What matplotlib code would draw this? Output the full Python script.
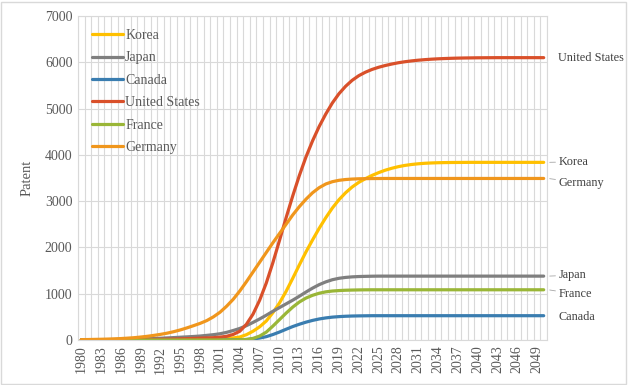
import numpy as np
import matplotlib.pyplot as plt
from matplotlib.patches import Rectangle

plt.rcParams['font.family'] = ['Liberation Serif', 'DejaVu Serif']

# years 1980 .. 2050
years = np.arange(1980, 2051)

korea = [0, 0, 1, 1, 1, 1, 2, 2, 2, 3,
         3, 4, 4, 5, 6, 7, 8, 9, 11, 13,
         16, 20, 30, 45, 65, 115, 190, 285, 410, 590,
         800, 1050, 1330, 1620, 1900, 2160, 2410, 2640, 2850, 3030,
         3180, 3305, 3405, 3485, 3555, 3615, 3668, 3710, 3745, 3772,
         3792, 3807, 3818, 3825, 3830, 3833, 3835, 3836, 3837, 3838,
         3838, 3838, 3838, 3838, 3838, 3838, 3838, 3838, 3838, 3838, 3838]

japan = [3, 4, 5, 6, 8, 10, 12, 15, 18, 22,
         27, 32, 38, 45, 52, 60, 68, 76, 86, 100,
         115, 135, 165, 205, 250, 310, 380, 455, 535, 620,
         700, 780, 860, 945, 1035, 1120, 1195, 1255, 1302, 1333,
         1352, 1364, 1371, 1375, 1378, 1380, 1380, 1380, 1380, 1380,
         1380, 1380, 1380, 1380, 1380, 1380, 1380, 1380, 1380, 1380,
         1380, 1380, 1380, 1380, 1380, 1380, 1380, 1380, 1380, 1380, 1380]

canada = [0, 0, 0, 0, 0, 0, 0, 0, 0, 0,
          0, 0, 0, 1, 1, 1, 1, 1, 1, 2,
          2, 2, 3, 3, 5, 10, 22, 42, 72, 118,
          172, 232, 290, 340, 385, 423, 454, 477, 494, 505,
          513, 518, 521, 523, 525, 525, 525, 525, 525, 525,
          525, 525, 525, 525, 525, 525, 525, 525, 525, 525,
          525, 525, 525, 525, 525, 525, 525, 525, 525, 525, 525]

usa = [2, 2, 3, 3, 4, 5, 6, 7, 8, 9,
       11, 13, 15, 18, 21, 25, 29, 34, 40, 45,
       50, 62, 80, 120, 190, 340, 560, 860, 1230, 1670,
       2150, 2640, 3110, 3550, 3950, 4300, 4610, 4880, 5120, 5320,
       5480, 5610, 5710, 5785, 5845, 5892, 5930, 5962, 5990, 6012,
       6030, 6045, 6057, 6067, 6075, 6081, 6086, 6090, 6093, 6095,
       6097, 6098, 6099, 6100, 6100, 6100, 6100, 6100, 6100, 6100, 6100]

france = [0, 0, 0, 0, 0, 0, 0, 0, 0, 0,
          0, 0, 0, 0, 0, 0, 0, 0, 1, 1,
          1, 1, 2, 3, 5, 12, 35, 85, 170, 300,
          440, 580, 710, 820, 905, 965, 1010, 1040, 1058, 1068,
          1075, 1079, 1082, 1084, 1085, 1085, 1085, 1085, 1085, 1085,
          1085, 1085, 1085, 1085, 1085, 1085, 1085, 1085, 1085, 1085,
          1085, 1085, 1085, 1085, 1085, 1085, 1085, 1085, 1085, 1085, 1085]

germany = [8, 10, 13, 16, 20, 25, 31, 40, 50, 64,
           80, 100, 122, 148, 180, 218, 262, 310, 360, 420,
           500, 600, 730, 880, 1060, 1260, 1470, 1680, 1890, 2100,
           2300, 2500, 2700, 2880, 3040, 3180, 3290, 3370, 3420, 3450,
           3467, 3477, 3483, 3486, 3488, 3489, 3490, 3490, 3490, 3490,
           3490, 3490, 3490, 3490, 3490, 3490, 3490, 3490, 3490, 3490,
           3490, 3490, 3490, 3490, 3490, 3490, 3490, 3490, 3490, 3490, 3490]

names = ['Korea', 'Japan', 'Canada', 'United States', 'France', 'Germany']
series = [korea, japan, canada, usa, france, germany]
colors = ['#FFC000', '#7F7F7F', '#3A7DB0', '#D9502A', '#9AB637', '#F0961C']

# label position on the right (value where the text sits)
label_y = [3850, 1400, 500, 6100, 995, 3390]
leader = [True, True, False, False, True, True]

fig = plt.figure(figsize=(6.28, 3.85), dpi=100)
ax = fig.add_axes([78/628, 1-340/385, (547-78)/628, (340-16)/385])

for name, vals, c in zip(names, series, colors):
    ax.plot(years, vals, color=c, lw=2.3, label=name, solid_capstyle='round')

ax.set_xlim(1979.5, 2050.5)
ax.set_ylim(0, 7000)
ax.set_xticks(years[::3])
ax.set_xticklabels([str(y) for y in years[::3]], rotation=90)
ax.set_xticks(np.arange(1979.5, 2051, 1), minor=True)
ax.set_yticks(np.arange(0, 7001, 1000))
ax.grid(which='minor', axis='x', color='#D9D9D9', lw=0.8)
ax.grid(which='major', axis='y', color='#D9D9D9', lw=0.8)
ax.set_axisbelow(True)
ax.tick_params(which='both', length=0, labelsize=10, colors='#595959', pad=4)
for s in ax.spines.values():
    s.set_color('#D9D9D9')
    s.set_linewidth(0.8)

ax.set_ylabel('Patent', fontsize=10.5, color='#595959', labelpad=8)

for name, vals, c, ly, ld in zip(names, series, colors, label_y, leader):
    if ld:
        ax.annotate(name, xy=(2050.7, vals[-1]), xytext=(2052.2, ly),
                    va='center', ha='left', fontsize=8.8, color='#404040',
                    annotation_clip=False,
                    arrowprops=dict(arrowstyle='-', color='#A6A6A6', lw=0.6,
                                    shrinkA=0, shrinkB=1))
    else:
        ax.text(2052.2, ly, name, va='center', ha='left', fontsize=8.8,
                color='#404040', clip_on=False)

leg = ax.legend(loc='upper left', frameon=False, fontsize=10,
                handlelength=2.2, handletextpad=0.15, labelspacing=0.68,
                bbox_to_anchor=(0.01, 0.99), borderaxespad=0.3)
for t in leg.get_texts():
    t.set_color('#595959')

fig.patches.append(Rectangle((0.002, 0.003), 0.995, 0.993, transform=fig.transFigure,
                             fill=False, edgecolor='#D9D9D9', lw=1))

fig.savefig('out.png', dpi=100)
